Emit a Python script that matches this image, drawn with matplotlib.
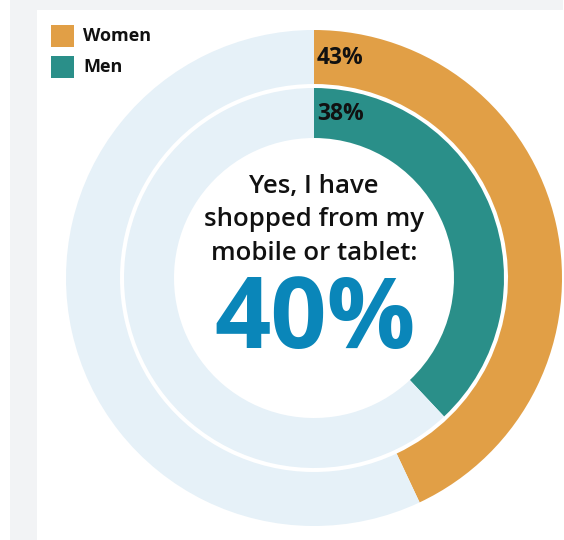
import matplotlib.pyplot as plt
from matplotlib.patches import Rectangle

# share of people who shopped from a phone or tablet
groups = ["Women", "Men"]
shares = [43, 38]
overall = 40
headline = ["Yes, I have", "shopped from my", "mobile or tablet:"]

colors = {"Women": "#E19F46", "Men": "#2A8F89"}
track = "#E6F1F8"
blue = "#0A86B9"
font = ["Open Sans", "DejaVu Sans"]

W, H = 564, 540
fig = plt.figure(figsize=(W / 100, H / 100), dpi=100)
fig.patch.set_facecolor("white")

# grey frame round the white card
fig.patches.append(Rectangle((10 / W, 0), 553 / W, 1, transform=fig.transFigure,
                             facecolor="#F2F3F5", edgecolor="none", zorder=-2))
fig.patches.append(Rectangle((37 / W, 0), 527 / W, 530 / H, transform=fig.transFigure,
                             facecolor="white", edgecolor="none", zorder=-1))

ax = fig.add_axes([0, 0, 1, 1])
ax.patch.set_alpha(0)

cx, cy = 314, 262
rings = [(248, 54), (190, 50)]  # outer radius, thickness for Women / Men

for (r, w), g, v in zip(rings, groups, shares):
    ax.pie([v, 100 - v], colors=[colors[g], track], radius=r, center=(cx, cy),
           startangle=90, counterclock=False, frame=True,
           wedgeprops=dict(width=w, linewidth=0))
    ax.text(cx + 3, cy + r - w / 2 - 1, f"{v}%", ha="left", va="center",
            fontsize=16.5, fontweight="bold", family=font, color="#111111")

ax.set_xlim(0, W)
ax.set_ylim(0, H)
ax.set_aspect("equal")
ax.axis("off")

# centre caption
for i, line in enumerate(headline):
    ax.text(cx, H - 193 - i * 33.5, line, ha="center", va="baseline",
            fontsize=18.5, fontweight="semibold", family=font, color="#111111")
ax.text(cx + 1, H - 348, f"{overall}%", ha="center", va="baseline",
        fontsize=71, fontweight="bold", family=font, color=blue)

# legend
for i, g in enumerate(groups):
    y = H - 36 - i * 31
    ax.add_patch(Rectangle((51, y - 11), 23, 22, facecolor=colors[g], edgecolor="none"))
    ax.text(83, y, g, ha="left", va="center", fontsize=13, fontweight="bold",
            family=font, color="#111111")

fig.savefig("out.png", dpi=100, facecolor=fig.get_facecolor())
